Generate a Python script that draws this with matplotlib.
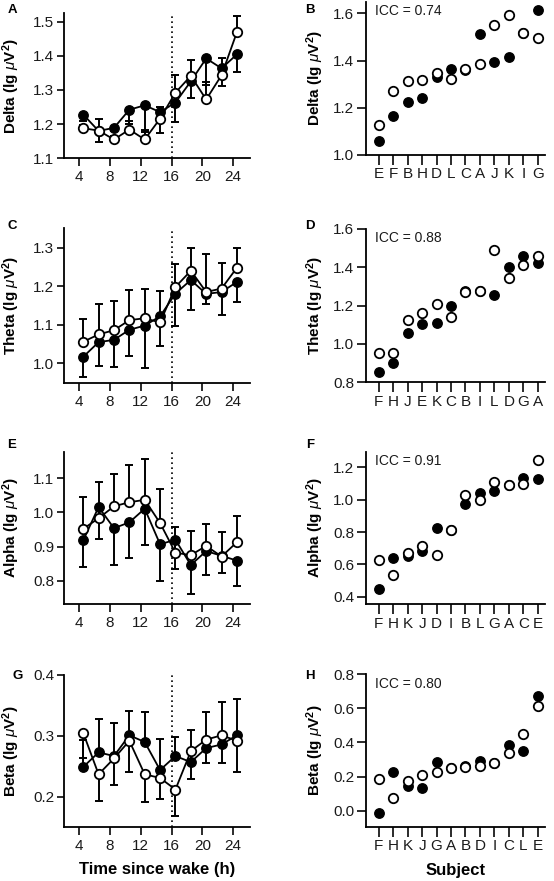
import matplotlib
matplotlib.use("Agg")
import matplotlib.pyplot as plt
import numpy as np

plt.rcParams['font.family'] = ['Liberation Sans', 'DejaVu Sans']
plt.rcParams['mathtext.fontset'] = 'custom'
plt.rcParams['mathtext.rm'] = 'Liberation Sans:bold'
plt.rcParams['mathtext.it'] = 'Liberation Sans:italic'
plt.rcParams['mathtext.bf'] = 'Liberation Sans:bold'

# ---- time course data (filled = session 1, open = session 2) ----
hours = [4.5, 6.5, 8.5, 10.5, 12.5, 14.5, 16.5, 18.5, 20.5, 22.5, 24.5]

delta_fill = [1.228, 1.180, 1.189, 1.242, 1.255, 1.235, 1.263, 1.325, 1.392, 1.363, 1.404]
delta_open = [1.188, 1.181, 1.155, 1.184, 1.155, 1.216, 1.292, 1.341, 1.272, 1.343, 1.469]
delta_fill_err = [0.02, 0.033, 0.01, 0.043, 0.079, 0.061, 0.057, 0.048, 0.078, 0.051, 0.051]
delta_open_err = [0.01, 0.035, 0.01, 0.025, 0.029, 0.034, 0.053, 0.046, 0.051, 0.051, 0.046]

theta_fill = [1.017, 1.055, 1.061, 1.087, 1.098, 1.122, 1.181, 1.216, 1.180, 1.185, 1.211]
theta_open = [1.056, 1.075, 1.086, 1.112, 1.117, 1.106, 1.198, 1.240, 1.185, 1.194, 1.248]
theta_fill_err = [0.052, 0.062, 0.071, 0.068, 0.11, 0.077, 0.085, 0.078, 0.025, 0.06, 0.052]
theta_open_err = [0.058, 0.08, 0.075, 0.079, 0.077, 0.082, 0.059, 0.06, 0.098, 0.065, 0.05]

alpha_fill = [0.918, 1.016, 0.954, 0.971, 1.011, 0.907, 0.920, 0.846, 0.887, 0.873, 0.859]
alpha_open = [0.952, 0.983, 1.018, 1.030, 1.037, 0.969, 0.882, 0.875, 0.902, 0.871, 0.913]
alpha_fill_err = [0.079, 0.095, 0.108, 0.105, 0.106, 0.108, 0.085, 0.085, 0.07, 0.051, 0.074]
alpha_open_err = [0.094, 0.107, 0.095, 0.109, 0.12, 0.099, 0.075, 0.072, 0.064, 0.073, 0.078]

beta_fill = [0.249, 0.273, 0.267, 0.301, 0.290, 0.244, 0.267, 0.257, 0.280, 0.286, 0.301]
beta_open = [0.305, 0.237, 0.263, 0.292, 0.237, 0.231, 0.212, 0.275, 0.294, 0.301, 0.292]
beta_fill_err = [0.044, 0.054, 0.055, 0.04, 0.05, 0.051, 0.031, 0.053, 0.059, 0.07, 0.059]
beta_open_err = [0.042, 0.044, 0.044, 0.051, 0.046, 0.035, 0.043, 0.046, 0.039, 0.046, 0.051]

# ---- per-subject data ----
delta_subj = ['E', 'F', 'B', 'H', 'D', 'L', 'C', 'A', 'J', 'K', 'I', 'G']
delta_subj_fill = [1.061, 1.165, 1.224, 1.243, 1.329, 1.364, 1.360, 1.512, 1.396, 1.417, 1.516, 1.615]
delta_subj_open = [1.128, 1.273, 1.314, 1.318, 1.346, 1.321, 1.363, 1.384, 1.551, 1.593, 1.516, 1.498]

theta_subj = ['F', 'H', 'J', 'E', 'K', 'C', 'B', 'I', 'L', 'D', 'G', 'A']
theta_subj_fill = [0.856, 0.900, 1.056, 1.103, 1.112, 1.200, 1.275, 1.278, 1.257, 1.400, 1.459, 1.421]
theta_subj_open = [0.955, 0.952, 1.126, 1.164, 1.208, 1.139, 1.271, 1.278, 1.489, 1.342, 1.412, 1.459]

alpha_subj = ['F', 'H', 'K', 'J', 'D', 'I', 'B', 'L', 'G', 'A', 'C', 'E']
alpha_subj_fill = [0.450, 0.641, 0.649, 0.680, 0.827, 0.810, 0.975, 1.043, 1.052, 1.089, 1.132, 1.126]
alpha_subj_open = [0.625, 0.534, 0.672, 0.713, 0.655, 0.810, 1.031, 0.996, 1.107, 1.089, 1.095, 1.245]

beta_subj = ['F', 'H', 'K', 'J', 'G', 'A', 'B', 'D', 'I', 'C', 'L', 'E']
beta_subj_fill = [-0.012, 0.225, 0.142, 0.135, 0.284, 0.252, 0.265, 0.293, 0.282, 0.384, 0.352, 0.673]
beta_subj_open = [0.186, 0.072, 0.175, 0.210, 0.224, 0.252, 0.258, 0.262, 0.282, 0.339, 0.450, 0.614]

icc_values = ['0.74', '0.88', '0.91', '0.80']

W, H = 554, 881
fig = plt.figure(figsize=(W / 100, H / 100), dpi=100)

TICK_FS = 11
LABEL_FS = 11


def add_ax(left, right, top, bottom):
    return fig.add_axes([left / W, 1 - bottom / H, (right - left) / W, (bottom - top) / H])


def style(ax):
    for s in ['top', 'right']:
        ax.spines[s].set_visible(False)
    for s in ['left', 'bottom']:
        ax.spines[s].set_linewidth(1.3)
    ax.tick_params(width=1.3, labelsize=TICK_FS, direction='out', pad=2, colors='#1a1a1a')


def ylabel(ax, name):
    ax.set_ylabel(name + r' (lg $\mu$V$^{\mathbf{2}}$)', fontsize=LABEL_FS, fontweight='bold')
    ax.yaxis.set_label_coords(-0.225, 0.5)


def time_panel(ax, fill, opn, fill_err, open_err, open_up, ylim, yticks, name):
    z = np.zeros(len(hours))
    if open_up:
        fe, oe = [fill_err, z], [z, open_err]
    else:
        fe, oe = [z, fill_err], [open_err, z]
    ax.errorbar(hours, fill, yerr=fe, fmt='none', ecolor='black', elinewidth=1.4,
                capsize=3.2, capthick=1.4, zorder=1)
    ax.errorbar(hours, opn, yerr=oe, fmt='none', ecolor='black', elinewidth=1.4,
                capsize=3.2, capthick=1.4, zorder=1)
    ax.plot(hours, fill, '-o', color='black', mfc='black', mec='black', ms=6.8, lw=1.3, zorder=2)
    ax.plot(hours, opn, '-o', color='black', mfc='white', mec='black', ms=6.8, mew=1.3, lw=1.3, zorder=3)
    ax.axvline(16, color='black', ls=(0, (1, 2)), lw=1.2, zorder=0)
    ax.set_xlim(2, 26.2)
    ax.set_ylim(*ylim)
    ax.set_xticks([4, 8, 12, 16, 20, 24])
    ax.set_yticks(yticks)
    ax.set_yticklabels(['%.1f' % v for v in yticks])
    style(ax)
    ax.tick_params(axis='y', length=5)
    ax.tick_params(axis='x', length=5.5, pad=3)
    ylabel(ax, name)


def subj_panel(ax, subj, fill, opn, icc, ylim, yticks, name):
    x = np.arange(len(subj))
    ax.plot(x, fill, 'o', mfc='black', mec='black', ms=6.8, zorder=2)
    ax.plot(x, opn, 'o', mfc='white', mec='black', ms=6.8, mew=1.3, zorder=3)
    ax.set_xlim(-0.88, 11.5)
    ax.set_ylim(*ylim)
    ax.set_xticks(x)
    ax.set_xticklabels(subj)
    ax.set_yticks(yticks)
    ax.set_yticklabels(['%.1f' % v for v in yticks])
    style(ax)
    ax.tick_params(axis='y', length=6.5)
    ax.tick_params(axis='x', length=7, pad=2)
    ax.text(0.05, 0.985, 'ICC = ' + icc, transform=ax.transAxes, fontsize=10,
            ha='left', va='top', color='#1a1a1a')
    ylabel(ax, name)


# left column
axA = add_ax(64, 250, 13.3, 158.3)
time_panel(axA, delta_fill, delta_open, delta_fill_err, delta_open_err, True,
           (1.1, 1.524), [1.1, 1.2, 1.3, 1.4, 1.5], 'Delta')
axC = add_ax(64, 250, 228.3, 382.7)
time_panel(axC, theta_fill, theta_open, theta_fill_err, theta_open_err, True,
           (0.95, 1.35), [1.0, 1.1, 1.2, 1.3], 'Theta')
axE = add_ax(64, 250, 451.7, 604.3)
time_panel(axE, alpha_fill, alpha_open, alpha_fill_err, alpha_open_err, True,
           (0.731, 1.178), [0.8, 0.9, 1.0, 1.1], 'Alpha')
axG = add_ax(64, 250, 675, 826.7)
time_panel(axG, beta_fill, beta_open, beta_fill_err, beta_open_err, False,
           (0.151, 0.4), [0.2, 0.3, 0.4], 'Beta')
axG.set_xlabel('Time since wake (h)', fontsize=12, fontweight='bold', labelpad=7)

# right column
axB = add_ax(366, 545, 1.7, 155)
subj_panel(axB, delta_subj, delta_subj_fill, delta_subj_open, icc_values[0],
           (1.0, 1.65), [1.0, 1.2, 1.4, 1.6], 'Delta')
axD = add_ax(366, 545, 229, 382.3)
subj_panel(axD, theta_subj, theta_subj_fill, theta_subj_open, icc_values[1],
           (0.8, 1.6), [0.8, 1.0, 1.2, 1.4, 1.6], 'Theta')
axF = add_ax(366, 545, 451.7, 604.3)
subj_panel(axF, alpha_subj, alpha_subj_fill, alpha_subj_open, icc_values[2],
           (0.353, 1.297), [0.4, 0.6, 0.8, 1.0, 1.2], 'Alpha')
axH = add_ax(366, 545, 674.3, 826.7)
subj_panel(axH, beta_subj, beta_subj_fill, beta_subj_open, icc_values[3],
           (-0.094, 0.8), [0.0, 0.2, 0.4, 0.6, 0.8], 'Beta')
axH.set_xlabel('Subject', fontsize=12, fontweight='bold', labelpad=7)

# panel letters
letters = [('A', 12, 10), ('B', 310, 10), ('C', 12, 226), ('D', 310, 226),
           ('E', 12, 445), ('F', 310, 445), ('G', 18, 676), ('H', 310, 676)]
for t, px, py in letters:
    fig.text(px / W, 1 - py / H, t, fontsize=9.5, fontweight='bold', ha='center', va='center')

fig.savefig('out.png', dpi=100)
